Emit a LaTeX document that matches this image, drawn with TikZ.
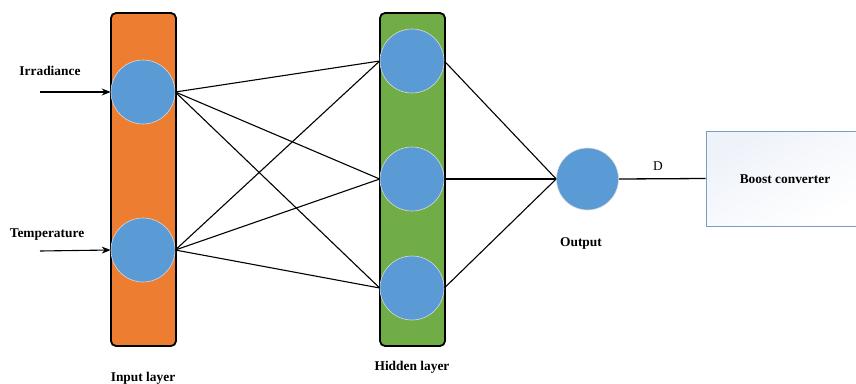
\documentclass[tikz,border=0pt]{standalone}
\usepackage{fontspec}
\setmainfont{Liberation Serif}
\usetikzlibrary{arrows.meta}
\definecolor{nodeblue}{HTML}{5B9BD5}
\definecolor{layorange}{HTML}{ED7D31}
\definecolor{laygreen}{HTML}{70AD47}
\definecolor{boxborder}{HTML}{7A9CC8}
\definecolor{boxfill}{HTML}{EEF2F9}
\begin{document}
\begin{tikzpicture}[x=1pt,y=-1pt,
  neuron/.style={circle,fill=nodeblue,draw=black!15,line width=0.6pt,minimum size=64pt,inner sep=0pt},
  layerbox/.style={draw=black,line width=1.8pt,rounded corners=5pt,minimum width=65pt,minimum height=333pt,inner sep=0pt},
  lbl/.style={font=\bfseries\fontsize{13.4}{15}\selectfont},
  conn/.style={line width=1.1pt},
  inarrow/.style={line width=1.1pt,-{Stealth[length=9pt,width=7pt]}}]
\useasboundingbox (0,0) rectangle (856,383);
\node[layerbox,fill=layorange] (inlayer) at (143.5,179.5) {};
\node[layerbox,fill=laygreen] (hidlayer) at (412.5,179.5) {};
\node[neuron] (i1) at (143,92) {};
\node[neuron] (i2) at (143,250) {};
\node[neuron] (h1) at (412,61) {};
\node[neuron] (h2) at (412,179) {};
\node[neuron] (h3) at (412,288) {};
\node[neuron,minimum size=62pt] (o) at (587.5,179) {};
\node[draw=boxborder,line width=0.8pt,top color=boxfill,bottom color=white,shading angle=30,minimum width=152pt,minimum height=95pt,inner sep=0pt] (boost) at (782,178.5) {};
\node[lbl] at (785,179) {Boost converter};
\coordinate (ia) at (40,92);
\coordinate (ta) at (40,251);
\draw[inarrow] (ia) -- (i1.west);
\draw[inarrow] (ta) -- (i2.west);
\node[lbl] (irr) at (50,71) {Irradiance};
\node[lbl] (tmp) at (47,235) {Temperature};
\foreach \a in {i1,i2}{\foreach \b in {h1,h2,h3}{\draw[conn] (\a.east) -- (\b.west);}}
\foreach \b in {h1,h2,h3}{\draw[conn] (\b.east) -- (o.west);}
\draw[line width=1.3pt] (o.east) -- (boost.west);
\node[font=\fontsize{13.4}{15}\selectfont] (d) at (658,166) {D};
\node[lbl] (outl) at (581,243) {Output};
\node[lbl] (hidl) at (412,367) {Hidden layer};
\node[lbl] (inl) at (143,378) {Input layer};
\end{tikzpicture}
\end{document}
